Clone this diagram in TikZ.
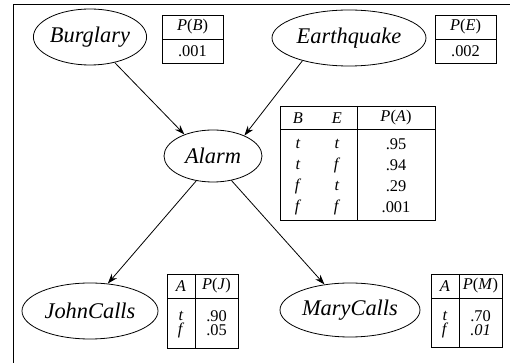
\documentclass[tikz,border=0pt]{standalone}
\usepackage{fontspec}
\setmainfont{Liberation Serif}
\usetikzlibrary{arrows.meta,shapes.geometric}

\tikzset{
	var/.style={draw,ellipse,inner sep=0pt,font=\fontsize{11.2}{13}\selectfont\itshape},
	cpt/.style={font=\fontsize{8.2}{9}\selectfont,inner sep=0pt},
	>={Stealth[length=5pt,width=3.4pt]}
}

\begin{document}
\begin{tikzpicture}[x=0.5pt,y=-0.5pt]
	\useasboundingbox (0,0) rectangle (510,363);
	\draw[line width=0.8pt] (13.5,363) -- (13.5,4.5) -- (510,4.5);

	\node[var,minimum width=56pt,minimum height=28pt] (burglary) at (90,37) {Burglary};
	\node[var,minimum width=77pt,minimum height=28pt] (earthquake) at (349,38) {Earthquake};
	\node[var,minimum width=49pt,minimum height=26pt] (alarm) at (213,156) {Alarm};
	\node[var,minimum width=68pt,minimum height=28pt] (john) at (90,311) {JohnCalls};
	\node[var,minimum width=70pt,minimum height=27pt] (mary) at (350,310) {MaryCalls};

	\draw[->] (burglary.314) -- (alarm.143);
	\draw[->] (earthquake.206) -- (alarm.33);
	\draw[->] (alarm.236) -- (john.57);
	\draw[->] (alarm.307) -- (mary.135);

	% P(B) and P(E)
	\draw (162,15) rectangle (223,63);
	\draw (162,39) -- (223,39);
	\node[cpt] (pb) at (192.5,27) {\textit{P}(\textit{B})};
	\node[cpt] (pbval) at (192.5,51) {.001};

	\draw (435,15) rectangle (496,63);
	\draw (435,39) -- (496,39);
	\node[cpt] (pe) at (465.5,27) {\textit{P}(\textit{E})};
	\node[cpt] (peval) at (465.5,51) {.002};

	% P(A|B,E)
	\draw (280,106) rectangle (435,220);
	\draw (280,129) -- (435,129);
	\draw (357,106) -- (357,220);
	\node[cpt] (hb) at (298,118) {\textit{B}};
	\node[cpt] (he) at (337,118) {\textit{E}};
	\node[cpt] (hpa) at (396,118) {\textit{P}(\textit{A})};
	\foreach \b/\e/\p [count=\i] in {t/t/.95,t/f/.94,f/t/.29,f/f/.001} {
		\node[cpt] (ab\i) at (298,123+21*\i) {\textit{\b}};
		\node[cpt] (ae\i) at (337,123+21*\i) {\textit{\e}};
		\node[cpt] (ap\i) at (396,123+21*\i) {\p};
	};

	% P(J|A)
	\draw (167,274) rectangle (238,348);
	\draw (167,298) -- (238,298);
	\draw (195,274) -- (195,348);
	\node[cpt] (ja) at (181,286) {\textit{A}};
	\node[cpt] (jp) at (216.5,286) {\textit{P}(\textit{J})};
	\node[cpt] (jt) at (181,316) {\textit{t}};
	\node[cpt] (jf) at (181,330) {\textit{f}};
	\node[cpt] (jtval) at (216.5,316) {.90};
	\node[cpt] (jfval) at (216.5,330) {.05};

	% P(M|A)
	\draw (431,274) rectangle (502,347);
	\draw (431,298) -- (502,298);
	\draw (459,274) -- (459,347);
	\node[cpt] (ma) at (445,286) {\textit{A}};
	\node[cpt] (mp) at (480.5,286) {\textit{P}(\textit{M})};
	\node[cpt] (mt) at (445,316) {\textit{t}};
	\node[cpt] (mf) at (445,330) {\textit{f}};
	\node[cpt] (mtval) at (480.5,316) {.70};
	\node[cpt] (mfval) at (480.5,330) {\textit{.01}};
\end{tikzpicture}
\end{document}
